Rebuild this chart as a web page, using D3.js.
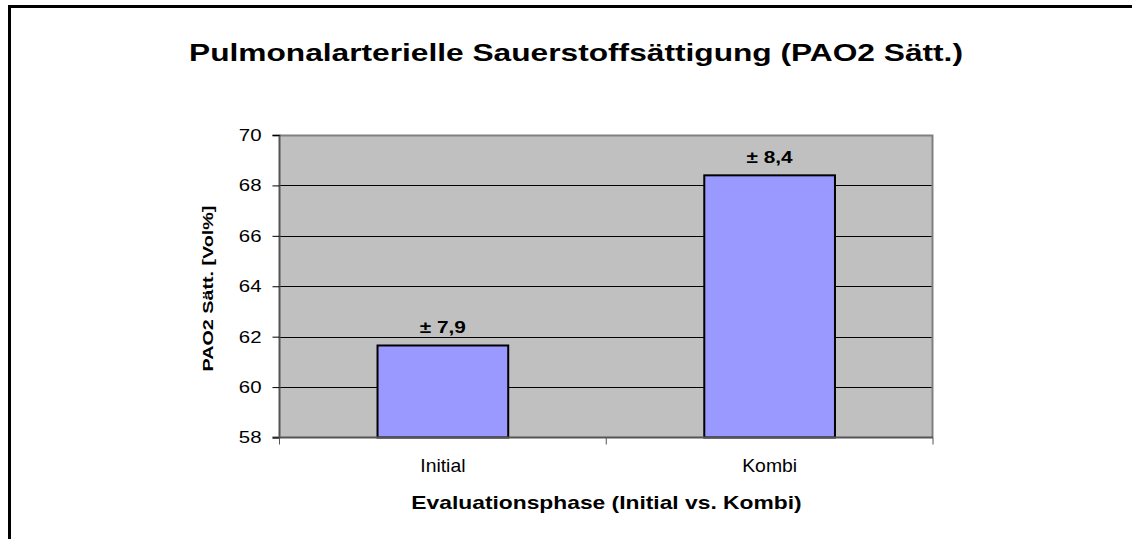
<!DOCTYPE html>
<html>
<head>
<meta charset="utf-8">
<script src="https://cdn.jsdelivr.net/npm/d3@7"></script>
<style>
  html, body { margin: 0; padding: 0; background: #fff; }
  svg { display: block; font-family: Arial, "Liberation Sans", sans-serif; }
</style>
</head>
<body>
<div id="chart"></div>
<script>
// data
const categories = ['Initial', 'Kombi'];
const values = [61.65, 68.4];
const errorLabels = ['± 7,9', '± 8,4'];
const yTicks = [58, 60, 62, 64, 66, 68, 70];

const W = 1132, H = 539;
const margin = { top: 135, right: 199, bottom: 101.5, left: 279.5 };
const width = W - margin.left - margin.right;
const height = H - margin.top - margin.bottom;
const FONT = 'Arial, "Liberation Sans", sans-serif';

// the original chart's text runs wider than the font's natural width
function stretch(sel, k) {
    sel.each(function () {
        const len = this.getComputedTextLength();
        d3.select(this).attr('textLength', len * k).attr('lengthAdjust', 'spacingAndGlyphs');
    });
}

const root = d3.select('#chart').append('svg').attr('width', W).attr('height', H);

// outer frame (only top and left edges visible)
root.append('path').attr('d', `M9.5,${H} L9.5,6.5 L${W},6.5`)
    .attr('fill', 'none').attr('stroke', '#000').attr('stroke-width', 3);

root.append('text').attr('x', 576).attr('y', 61).attr('text-anchor', 'middle')
    .attr('font-size', '24px').attr('font-weight', 'bold')
    .text('Pulmonalarterielle Sauerstoffsättigung (PAO2 Sätt.)')
    .call(stretch, 1.32);

const svg = root.append('g').attr('transform', `translate(${margin.left},${margin.top})`);

const x = d3.scaleBand().domain(categories).range([0, width]);
const y = d3.scaleLinear().domain([58, 70]).range([height, 0]);

svg.append('rect').attr('width', width).attr('height', height).attr('fill', '#c0c0c0');

svg.selectAll('.grid').data(yTicks.slice(1)).enter().append('line')
    .attr('x1', 0).attr('x2', width)
    .attr('y1', d => Math.round(y(d)) + 0.5).attr('y2', d => Math.round(y(d)) + 0.5)
    .attr('stroke', '#000').attr('stroke-width', 1);

// plot border: top & right gray
svg.append('path').attr('d', `M0,0.5 L${width - 0.5},0.5 L${width - 0.5},${height}`)
    .attr('fill', 'none').attr('stroke', '#808080').attr('stroke-width', 2);

const barW = x.bandwidth() * 0.4;
svg.selectAll('.bar').data(values).enter().append('rect')
    .attr('x', (d, i) => x(categories[i]) + (x.bandwidth() - barW) / 2)
    .attr('y', d => y(d))
    .attr('width', barW)
    .attr('height', d => height - y(d))
    .attr('fill', '#9999ff').attr('stroke', '#000').attr('stroke-width', 2);

svg.selectAll('.err').data(values).enter().append('text')
    .attr('x', (d, i) => x(categories[i]) + x.bandwidth() / 2)
    .attr('y', d => y(d) - 12)
    .attr('text-anchor', 'middle').attr('font-size', '16px').attr('font-weight', 'bold')
    .text((d, i) => errorLabels[i])
    .call(stretch, 1.3);

// y axis
const yAxis = svg.append('g')
    .call(d3.axisLeft(y).tickValues(yTicks).tickSize(7).tickPadding(11).tickFormat(d3.format('d')));
yAxis.select('.domain').attr('stroke', '#555').attr('stroke-width', 2).attr('d', `M-7,0.5H0V${height}H-7`);
yAxis.selectAll('.tick line').attr('stroke', '#000');
yAxis.selectAll('text').attr('font-size', '17px').attr('fill', '#000').attr('font-family', FONT)
    .call(stretch, 1.2);

// x axis
const xAxis = svg.append('g').attr('transform', `translate(0,${height})`)
    .call(d3.axisBottom(x).tickSize(0));
xAxis.select('.domain').attr('stroke', '#555').attr('stroke-width', 2).attr('d', `M0,0H${width}`);
xAxis.selectAll('text').attr('font-size', '19px').attr('fill', '#000').attr('font-family', FONT)
    .attr('y', 34).attr('dy', 0)
    .call(stretch, 1.02);
svg.append('g').attr('transform', `translate(0,${height})`)
    .selectAll('line').data([0, 1, 2]).enter().append('line')
    .attr('x1', d => d * x.bandwidth()).attr('x2', d => d * x.bandwidth())
    .attr('y1', 0).attr('y2', 7).attr('stroke', '#555').attr('stroke-width', 1);

root.append('text').attr('x', 606.5).attr('y', 509).attr('text-anchor', 'middle')
    .attr('font-size', '19px').attr('font-weight', 'bold')
    .text('Evaluationsphase (Initial vs. Kombi)')
    .call(stretch, 1.2);

root.append('text').attr('transform', 'translate(212.5,288.5) rotate(-90)').attr('text-anchor', 'middle')
    .attr('font-size', '14.5px').attr('font-weight', 'bold')
    .text('PAO2 Sätt. [Vol%]')
    .call(stretch, 1.36);
</script>
</body>
</html>
